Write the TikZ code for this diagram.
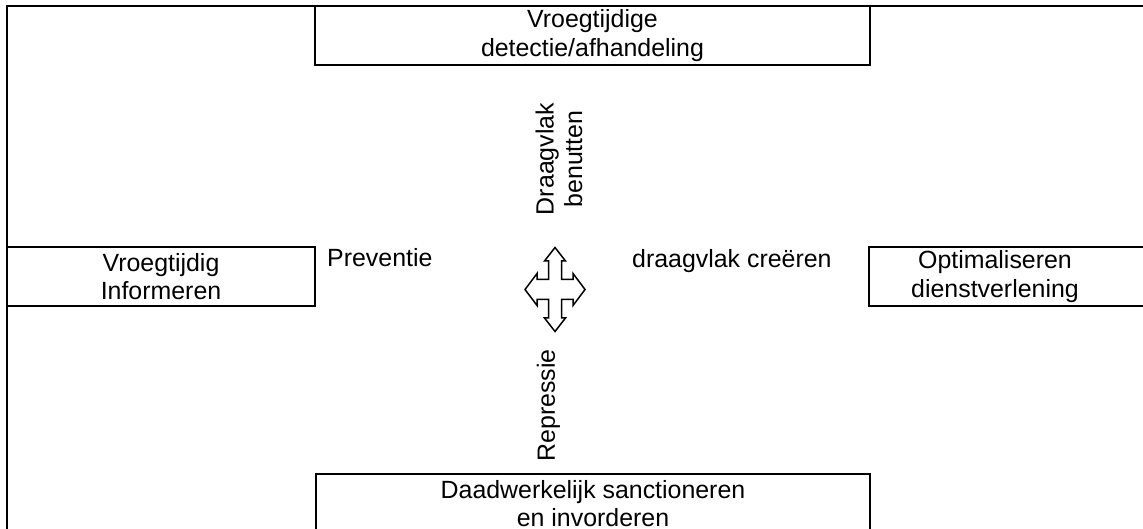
\documentclass[tikz,border=0pt]{standalone}
\usepackage{fontspec}
\setmainfont{Liberation Sans}

\tikzstyle{box} = [align=center,draw=black,line width=2bp,rectangle,text centered,minimum height=59bp]
\tikzstyle{kruis} = [draw=black,line width=1.5bp,fill=white,line join=miter]

\begin{document}
\begin{tikzpicture}[x=1bp,y=-1bp,inner sep=0pt,font=\fontsize{25}{28.5}\selectfont]
	\useasboundingbox (0,0) rectangle (1143,529);
	\clip (0,0) rectangle (1143,529);
	\draw [line width=2bp] (7,6) rectangle (1170,570);
	\node (detectie) [box,minimum width=555bp] at (592.5,35.5) {Vroegtijdige\\detectie/afhandeling};
	\node (informeren) [box,minimum width=308bp] at (161,276.5) {Vroegtijdig\\Informeren};
	\draw [line width=2bp] (869,247) rectangle (1170,306);
	\node (dienst) [align=center] at (995,276.5) {Optimaliseren\\dienstverlening};
	\node (sanctie) [box,minimum width=554bp] at (593,503.5) {Daadwerkelijk sanctioneren\\en invorderen};
	\node (preventie) [anchor=base west] at (327,267) {Preventie};
	\node (creeren) [anchor=base west] at (632,268) {draagvlak creëren};
	\node (benutten) [rotate=90,align=center] at (559,159) {Draagvlak\\benutten};
	\node (repressie) [rotate=90] at (548.5,405.5) {Repressie};
	\coordinate (midden) at (555,289.5);
	\draw [kruis,shift={(midden)}] (0,-42) -- (10.5,-28.5) -- (6.5,-28.5) -- (6.5,-10) -- (18,-10) -- (18,-16) -- (30,0)
		-- (18,16) -- (18,10) -- (6.5,10) -- (6.5,28.5) -- (10.5,28.5) -- (0,42) -- (-10.5,28.5) -- (-6.5,28.5) -- (-6.5,10)
		-- (-18,10) -- (-18,16) -- (-30,0) -- (-18,-16) -- (-18,-10) -- (-6.5,-10) -- (-6.5,-28.5) -- (-10.5,-28.5) -- cycle;
\end{tikzpicture}
\end{document}
